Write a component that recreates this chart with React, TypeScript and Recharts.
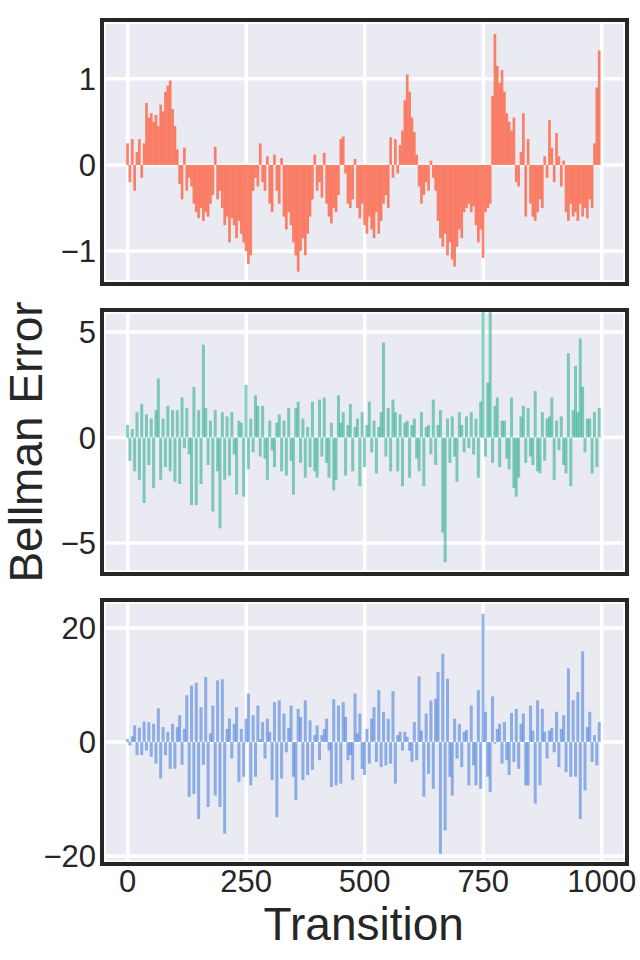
import React from 'react';
import { BarChart, Bar, XAxis, YAxis, CartesianGrid } from 'recharts';

// one sample every 5 transitions
const transitions = Array.from({ length: 200 }, (_, i) => i * 5);
const xTicks = [0, 250, 500, 750, 1000];

const topErrors = [
  0.25, -0.2, 0.3, -0.3, 0.15, 0.3, -0.15, 0.25, 0.72, 0.55, 0.6, 0.5, 0.58, 0.45, 0.7, 0.62, 0.85, 0.92, 0.98, 0.65,
  0.45, 0.18, -0.22, -0.4, 0.2, -0.3, -0.15, -0.25, -0.45, -0.55, -0.62, -0.5, -0.65, -0.55, -0.6, -0.45, -0.35, 0.21, -0.4, -0.3,
  -0.5, -0.7, -0.6, -0.9, -0.62, -0.7, -0.85, -0.65, -0.8, -0.9, -1.0, -1.15, -1.05, -0.3, -0.15, -0.25, 0.25, -0.2, -0.3, 0.1,
  -0.45, -0.55, 0.12, -0.3, -0.45, 0.08, -0.6, -0.75, -0.55, -0.7, -0.9, -1.05, -1.24, -1.0, -0.85, -1.05, -0.8, -0.6, -0.4, 0.12,
  -0.3, -0.2, -0.38, 0.14, -0.45, -0.6, -0.68, -0.5, -0.55, -0.35, 0.3, 0.33, -0.1, -0.45, -0.5, -0.4, 0.07, -0.5, -0.62, -0.45,
  -0.7, -0.8, -0.6, -0.75, -0.85, -0.55, -0.8, -0.65, -0.45, -0.35, -0.5, 0.32, -0.15, 0.3, -0.1, 0.23, 0.4, 0.75, 1.05, 0.85,
  0.55, 0.38, 0.12, -0.25, -0.45, -0.35, -0.2, -0.3, 0.05, -0.15, -0.3, -0.65, -0.85, -0.95, -0.8, -1.05, -0.9, -1.1, -1.18, -0.95,
  -0.75, -0.85, -0.55, -0.5, -0.45, -0.55, -0.48, -0.7, -0.9, -0.75, -1.08, -0.55, -0.5, -0.45, 0.8, 1.52, 1.15, 0.95, 1.1, 0.85,
  0.6, 0.5, 0.4, 0.55, -0.2, -0.25, 0.15, 0.6, -0.6, 0.3, -0.45, -0.6, -0.65, -0.55, -0.4, -0.5, 0.1, -0.15, 0.52, 0.2,
  -0.2, 0.37, 0.1, -0.25, 0.05, -0.55, -0.65, -0.45, -0.6, -0.55, -0.65, -0.45, -0.6, -0.5, -0.62, -0.4, -0.5, 0.25, 0.9, 1.33,
];

const middleErrors = [
  0.6, -1.1, 0.4, -1.6, 1.2, -2.0, 1.6, -3.1, 1.1, -1.3, 0.9, -2.4, 1.3, 2.8, -2.0, 0.9, -1.4, 1.5, -1.6, 1.3,
  -2.1, 1.3, -2.2, 1.9, -0.5, 1.4, -0.8, -3.2, 2.4, -3.2, 1.3, -2.2, 4.4, 1.4, -1.3, 0.8, -3.5, 1.3, -1.6, -4.3,
  1.2, -2.0, 1.0, -1.8, 1.2, -0.8, -2.7, 0.8, 0.7, -2.8, 2.5, -1.5, 0.9, -0.7, 2.0, 1.5, -0.9, 1.5, -1.0, -2.0,
  0.8, -0.6, -1.4, 0.7, 1.1, -1.6, 0.8, -1.8, 1.4, -1.1, -2.7, 1.4, 1.7, -1.2, 0.9, -1.9, 0.5, -1.4, 1.7, -1.6,
  -1.9, 1.8, -0.9, 1.9, -1.2, -1.9, 0.7, -2.5, -2.0, 2.0, 0.7, 1.2, -1.8, 0.6, 1.6, -1.6, 0.5, 0.9, -2.3, 1.2,
  -1.4, 0.6, 1.7, -0.7, 0.8, -1.7, 0.5, 1.2, 4.5, -0.9, 1.4, -1.6, 1.8, 1.2, -1.6, 1.1, -2.3, 0.7, 0.8, -1.9,
  0.6, 0.9, -1.0, -1.6, 1.2, -2.3, 0.5, 0.6, -0.8, 1.8, -1.3, 0.6, 1.3, -4.5, -5.9, 0.9, -1.2, 1.0, -0.9, -2.1,
  1.2, 0.6, -0.7, 1.0, -0.5, 1.2, -0.8, 0.9, -1.9, 1.7, 8.0, -0.9, 2.6, 8.0, -1.2, 1.5, 1.9, -1.4, 0.8, 0.8,
  -1.0, -1.5, 1.9, -2.4, -2.8, -1.9, 1.0, 1.5, -1.2, 1.4, -0.9, -1.3, 2.2, -1.6, -1.7, 1.2, -1.1, 0.9, 1.0, 1.9,
  -2.0, 0.8, -0.6, 1.0, -1.3, -1.7, 4.0, -2.3, 1.3, 3.4, 1.2, 4.7, 2.4, -0.7, 0.9, 0.9, -1.7, 1.2, -1.4, 1.4,
];

const bottomErrors = [
  0.5, -0.6, 1.0, 2.9, -2.3, 2.5, -2.3, 3.6, -1.5, 3.5, -2.6, 3.2, -3.8, 5.9, -6.4, 2.6, -2.3, 1.8, -4.7, 3.2,
  -4.7, 2.6, 4.7, -4.0, 2.3, 8.2, -9.6, 9.9, -9.1, 10.4, -13.5, 6.1, -4.0, 11.4, -11.4, 1.5, 6.4, -9.4, 10.8, -11.4,
  11.0, -16.1, 2.3, 4.1, -2.9, 3.2, 6.1, -7.0, 2.3, -6.1, 4.1, 8.5, -7.6, 4.7, -6.1, 6.4, 0.5, 3.5, -2.9, 4.1,
  1.8, -6.7, 7.0, -13.2, 7.3, -6.4, 5.0, -1.8, 2.5, 6.4, -6.1, -10.2, 5.8, 4.4, -6.7, 7.3, -5.8, 3.8, -4.9, 1.2,
  2.9, -3.2, 1.2, 2.3, 4.1, -1.5, -7.9, 7.5, -7.6, 6.4, -7.3, 7.0, 4.4, -3.2, -2.3, -6.7, 8.5, 1.5, 5.0, -4.7,
  -5.8, 2.3, -3.8, 4.1, 6.1, -3.5, 9.1, -4.4, 5.3, -4.1, 4.1, -3.8, 8.9, -7.3, 1.2, 1.8, -1.5, 1.8, 0.9, -1.5,
  -3.5, 3.5, -3.2, 11.5, 2.0, -9.6, 5.0, -5.6, 7.3, -8.2, 7.6, 12.3, -19.6, 15.5, -15.5, 11.1, -6.1, -9.4, 4.1, -2.9,
  3.2, -4.4, 1.8, 2.1, -7.6, 6.4, -4.1, -7.6, 9.1, -8.2, 22.5, 5.3, -6.1, -8.8, 8.0, -0.3, 2.3, 3.2, -3.8, 3.5,
  -3.2, -5.8, 5.1, -3.5, 5.8, -4.7, 3.2, 5.0, -7.6, -7.6, 6.4, 2.0, -10.8, 7.3, -7.6, 5.8, 1.8, -2.9, 2.0, 2.5,
  -1.8, 5.3, -4.4, 2.3, 4.7, -5.3, 12.9, -6.1, 7.3, -6.1, 8.8, -13.5, 15.9, -8.5, 2.6, 5.3, -3.5, 1.2, -4.1, 3.5,
];

const topTicks = [-1, 0, 1];
const middleTicks = [-5, 0, 5];
const bottomTicks = [-20, 0, 20];

const FONT = '"Liberation Sans", Arial, Helvetica, sans-serif';
const INK = '#262626';
const tickStyle = { fontFamily: FONT, fontSize: 31, fill: INK };
const minus = (v: number) => String(v).replace('-', '\u2212');

// recharts squeezes bars on a numeric axis, so widen them around the centre it computed
const wideBar = (w: number) => (props: any) => {
  const { x, y, width, height, fill, fillOpacity } = props;
  if (x == null || y == null) return null;
  const cx = x + width / 2;
  const top = Math.min(y, y + height);
  return <rect x={cx - w / 2} y={top} width={w} height={Math.abs(height)} fill={fill} fillOpacity={fillOpacity} />;
};

type PanelProps = {
  values: number[];
  color: string;
  opacity: number;
  barWidth: number;
  domain: [number, number];
  ticks: number[];
  innerTop: number;
  showX?: boolean;
};

function Panel({ values, color, opacity, barWidth, domain, ticks, innerTop, showX }: PanelProps) {
  const data = transitions.map((t, i) => ({ t, v: values[i] }));
  const height = showX ? 330 : 280;
  return (
    <>
      <div style={{ position: 'absolute', left: 0, top: innerTop - 10, width: 640, height }}>
        <BarChart
          width={640}
          height={height}
          data={data}
          margin={{ top: 10, right: 15, bottom: 10, left: 14 }}
          barCategoryGap={0}
          barGap={0}
        >
          <CartesianGrid fill="#eaeaf2" stroke="#ffffff" strokeWidth={3.5} />
          <XAxis
            dataKey="t"
            type="number"
            domain={[-50, 1049]}
            ticks={xTicks}
            allowDataOverflow
            hide={!showX}
            height={50}
            tickSize={0}
            tickMargin={8}
            axisLine={false}
            tickLine={false}
            tick={tickStyle}
            interval={0}
          />
          <YAxis
            type="number"
            domain={domain}
            ticks={ticks}
            allowDataOverflow
            width={90}
            tickSize={0}
            tickMargin={8}
            axisLine={false}
            tickLine={false}
            tick={tickStyle}
            tickFormatter={minus}
            interval={0}
          />
          <Bar
            dataKey="v"
            fill={color}
            fillOpacity={opacity}
            shape={wideBar(barWidth)}
            isAnimationActive={false}
          />
        </BarChart>
      </div>
      <div
        style={{
          position: 'absolute',
          left: 100,
          top: innerTop - 4,
          width: 529,
          height: 268,
          border: `4px solid ${INK}`,
          boxSizing: 'border-box',
          pointerEvents: 'none',
        }}
      />
    </>
  );
}

export default function App() {
  return (
    <div style={{ position: 'absolute', left: 0, top: 0, width: 640, height: 960, background: '#ffffff' }}>
      <Panel values={topErrors} color="#fb6c50" opacity={0.85} barWidth={2.7} domain={[-1.36, 1.66]} ticks={topTicks} innerTop={21.7} />
      <Panel values={middleErrors} color="#20ac88" opacity={0.55} barWidth={3.0} domain={[-6.37, 5.95]} ticks={middleTicks} innerTop={311.7} />
      <Panel values={bottomErrors} color="#3c78d8" opacity={0.55} barWidth={3.0} domain={[-21.05, 24.56]} ticks={bottomTicks} innerTop={601.7} showX />
      <svg width={640} height={960} style={{ position: 'absolute', left: 0, top: 0, pointerEvents: 'none' }}>
        <text x={363.75} y={940} textAnchor="middle" fontFamily={FONT} fontSize={46} fill={INK}>
          Transition
        </text>
        <text x={42} y={442} textAnchor="middle" fontFamily={FONT} fontSize={46} fill={INK} transform="rotate(-90 42 442)">
          Bellman Error
        </text>
      </svg>
    </div>
  );
}
